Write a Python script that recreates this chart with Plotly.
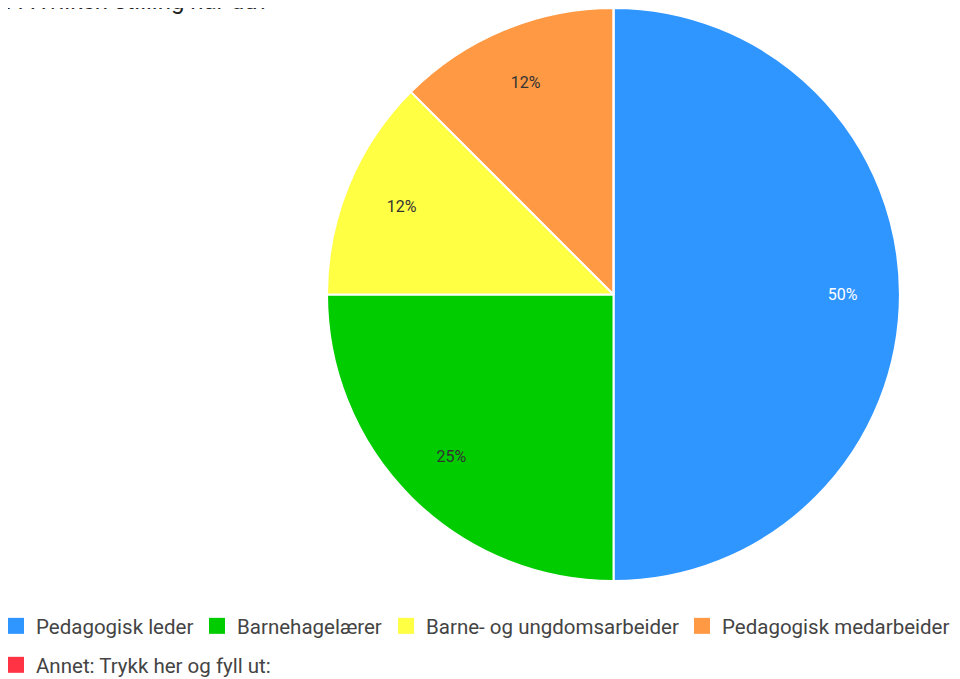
import plotly.graph_objects as go

# Svar på spørsmålet om stilling
stillinger = ["Pedagogisk leder", "Barnehagelærer", "Barne- og ungdomsarbeider",
              "Pedagogisk medarbeider", "Annet: Trykk her og fyll ut:"]
antall = [4, 2, 1, 1, 0]
farger = ["#2f95ff", "#00cc00", "#ffff44", "#ff9944", "#ff3344"]
tekstfarger = ["#ffffff", "#333333", "#333333", "#333333", "#333333"]

total = sum(antall)
prosent = [f"{int(a / total * 100)}%" if a > 0 else "" for a in antall]

# siden har 8px marg, så alt er flyttet 8px opp/venstre
domene = dict(x=[0.3323, 0.9292], y=[0.1561, 1.0])

fig = go.Figure()

# selve kaka med hvite skillelinjer
fig.add_trace(go.Pie(
    labels=stillinger, values=antall, textinfo="none",
    sort=False, direction="clockwise", rotation=0,
    marker=dict(colors=farger, line=dict(color="white", width=2)),
    domain=domene, showlegend=False, hoverinfo="label+percent",
))

# gjennomsiktig ring oppå, bare for å plassere prosentene lenger ut
fig.add_trace(go.Pie(
    labels=stillinger, values=antall, text=prosent, hole=0.6,
    textinfo="text", textposition="inside", insidetextorientation="horizontal",
    sort=False, direction="clockwise", rotation=0,
    marker=dict(colors=["rgba(0,0,0,0)"] * len(antall), line=dict(width=0)),
    textfont=dict(family="Roboto", size=16, color=tekstfarger),
    domain=domene, showlegend=False, hoverinfo="skip",
))

# forklaring: en tom serie per kategori, hver i sin egen legend
legend_navn = ["legend", "legend2", "legend3", "legend4", "legend5"]
legend_x = [-0.0125, 0.1969, 0.3938, 0.7021, -0.0125]
legend_y = [0.0898, 0.0898, 0.0898, 0.0898, 0.0324]

for navn, farge, lg in zip(stillinger, farger, legend_navn):
    fig.add_trace(go.Scatter(
        x=[None], y=[None], mode="markers", name=navn, legend=lg,
        marker=dict(symbol="square", size=16, color=farge, line=dict(width=0)),
    ))

legender = {}
for lg, lx, ly in zip(legend_navn, legend_x, legend_y):
    legender[lg] = dict(x=lx, xanchor="left", y=ly, yanchor="middle",
                        orientation="h", bgcolor="rgba(0,0,0,0)",
                        font=dict(family="Roboto", size=20.5, color="#444444"),
                        itemwidth=30)

fig.update_layout(
    width=960, height=679,
    margin=dict(l=0, r=0, t=0, b=0, autoexpand=False),
    paper_bgcolor="white", plot_bgcolor="white",
    xaxis=dict(visible=False), yaxis=dict(visible=False),
    **legender,
)

# tittelen er kuttet i toppen, som i originalen
fig.add_annotation(
    text="7. Hvilken stilling har du?", xref="paper", yref="paper",
    x=0, y=1, xanchor="left", yanchor="bottom", xshift=-6, yshift=-9,
    showarrow=False, font=dict(family="Roboto", size=24, color="#222222"),
)

fig.write_html("out.html")
